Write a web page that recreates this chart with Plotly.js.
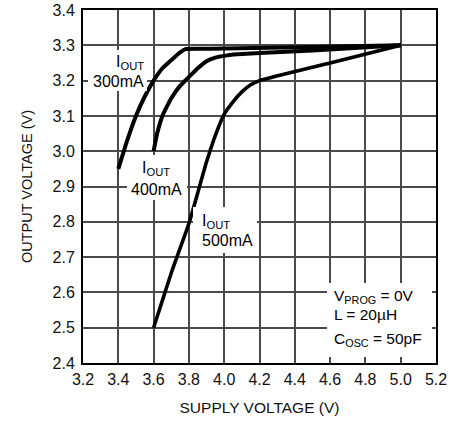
<!DOCTYPE html>
<html>
<head>
<meta charset="utf-8">
<script src="https://cdn.plot.ly/plotly-3.0.1.min.js"></script>
<style>html,body{margin:0;padding:0;background:#fff;}#chart{width:465px;height:422px;}</style>
</head>
<body>
<div id="chart"></div>
<script>
// Supply voltage (V) and output voltage (V) for each load current
const x300 = [3.40, 3.45, 3.50, 3.55, 3.60, 3.65, 3.70, 3.75, 3.78, 3.85, 4.00, 4.50, 5.00];
const y300 = [2.95, 3.03, 3.10, 3.155, 3.20, 3.235, 3.258, 3.28, 3.289, 3.290, 3.291, 3.295, 3.30];

const x400 = [3.60, 3.62, 3.65, 3.70, 3.75, 3.80, 3.85, 3.90, 3.95, 4.00, 4.05, 4.20, 4.50, 5.00];
const y400 = [3.00, 3.05, 3.10, 3.15, 3.185, 3.21, 3.235, 3.255, 3.265, 3.27, 3.274, 3.278, 3.285, 3.30];

const x500 = [3.60, 3.70, 3.80, 3.90, 3.95, 4.00, 4.05, 4.10, 4.15, 4.20, 4.60, 5.00];
const y500 = [2.50, 2.655, 2.795, 2.97, 3.045, 3.105, 3.14, 3.168, 3.188, 3.20, 3.25, 3.30];

// tick values / labels
const xTicks = [3.2, 3.4, 3.6, 3.8, 4.0, 4.2, 4.4, 4.6, 4.8, 5.0, 5.2];
const xTickText = ["3.2", "3.4", "3.6", "3.8", "4.0", "4.2", "4.4", "4.6", "4.8", "5.0", "5.2"];
const yTicks = [2.4, 2.5, 2.6, 2.7, 2.8, 2.9, 3.0, 3.1, 3.2, 3.3, 3.4];
const yTickText = ["2.4", "2.5", "2.6", "2.7", "2.8", "2.9", "3.0", "3.1", "3.2", "3.3", "3.4"];

const xTitle = "SUPPLY VOLTAGE (V)";
const yTitle = "OUTPUT VOLTAGE (V)";
const labels300 = ["I<sub>OUT</sub>", "300mA"];
const labels400 = ["I<sub>OUT</sub>", "400mA"];
const labels500 = ["I<sub>OUT</sub>", "500mA"];
const condLabels = ["V<sub>PROG</sub> = 0V", "L = 20µH", "C<sub>OSC</sub> = 50pF"];

const REG = "Liberation Sans, Arial, Helvetica, sans-serif";
const GRID = '#4a4a4a';

function curve(x, y, w) {
  return {x: x, y: y, type: 'scatter', mode: 'lines',
          line: {color: '#000', width: w, shape: 'spline', smoothing: 0.4},
          hoverinfo: 'skip', showlegend: false};
}

const data = [curve(x300, y300, 4), curve(x400, y400, 4), curve(x500, y500, 3.6)];

// white label backgrounds that break the grid
function bg(x, y, w, h) {
  return {text: ' ', x: x, y: y, xref: 'x', yref: 'y', xanchor: 'left', yanchor: 'top',
          width: w, height: h, bgcolor: '#fff', borderpad: 0, borderwidth: 0,
          showarrow: false, font: {size: 10}};
}

function txt(t, x, y, xa, size) {
  return {text: t, x: x, y: y, xref: 'x', yref: 'y', xanchor: xa, yanchor: 'middle',
          showarrow: false, borderpad: 0, font: {family: REG, size: size, color: '#000'}};
}

const layout = {
  width: 465, height: 422,
  margin: {l: 83, r: 29, t: 10, b: 59},
  xaxis: {
    range: [3.2, 5.2], tickmode: 'array', tickvals: xTicks, ticktext: xTickText,
    showgrid: true, gridcolor: GRID, gridwidth: 2, zeroline: false,
    showline: true, linecolor: '#000', linewidth: 2, mirror: true,
    ticks: 'outside', ticklen: 1, tickcolor: '#ffffff', tickwidth: 1,
    tickfont: {family: REG, size: 16, color: '#111'},
    title: {text: xTitle, font: {family: REG, size: 15.5, color: '#111'}, standoff: 15}
  },
  yaxis: {
    range: [2.4, 3.4], tickmode: 'array', tickvals: yTicks, ticktext: yTickText,
    showgrid: true, gridcolor: GRID, gridwidth: 2, zeroline: false,
    showline: true, linecolor: '#000', linewidth: 2, mirror: true,
    ticks: 'outside', ticklen: 3, tickcolor: '#ffffff', tickwidth: 1,
    tickfont: {family: REG, size: 16, color: '#111'},
    title: {text: yTitle, font: {family: REG, size: 14.5, color: '#111'}, standoff: 16}
  },
  annotations: [
    bg(3.228, 3.287, 59, 41),
    bg(3.449, 2.988, 60, 45),
    bg(3.824, 2.841, 64, 46),
    bg(4.583, 2.626, 105, 74),
    txt(labels300[0], 3.5515, 3.250, 'right', 16),
    txt(labels300[1], 3.5515, 3.197, 'right', 16),
    txt(labels400[0], 3.614, 2.952, 'center', 16),
    txt(labels400[1], 3.614, 2.892, 'center', 16),
    txt(labels500[0], 3.869, 2.801, 'left', 16),
    txt(labels500[1], 3.867, 2.748, 'left', 16),
    txt(condLabels[0], 4.616, 2.588, 'left', 15.5),
    txt(condLabels[1], 4.617, 2.538, 'left', 15.5),
    txt(condLabels[2], 4.617, 2.467, 'left', 15.5)
  ]
};

Plotly.newPlot('chart', data, layout, {displayModeBar: false});
</script>
</body>
</html>
